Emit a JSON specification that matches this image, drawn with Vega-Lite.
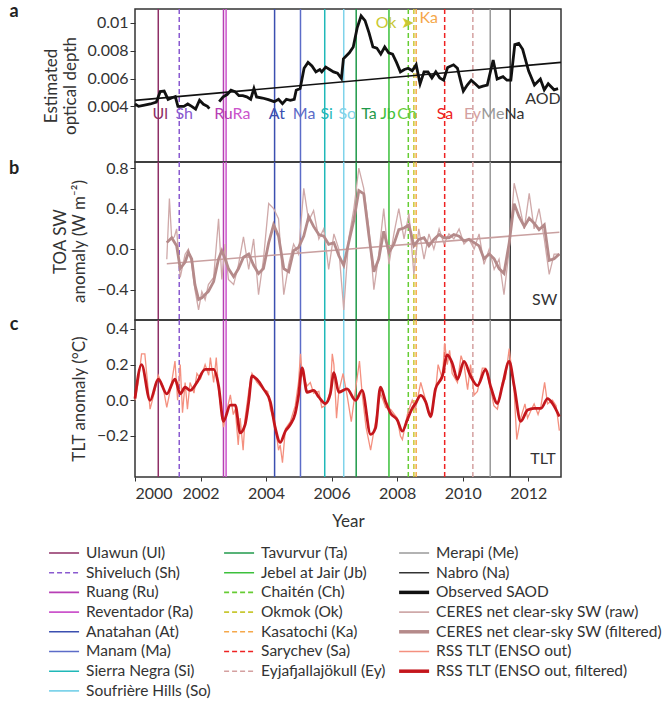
{
  "$schema": "https://vega.github.io/schema/vega-lite/v6.json",
  "background": "white",
  "padding": {"left": 8, "top": 2, "right": 5, "bottom": 5},
  "config": {
    "font": "Lato",
    "view": {"stroke": "#333", "strokeWidth": 1.5},
    "axis": {"grid": false, "domain": false, "labelFont": "Lato", "titleFont": "Lato", "labelFontSize": 16, "titleFontSize": 17, "titleFontWeight": "normal", "labelColor": "#333", "titleColor": "#333", "tickColor": "#333", "tickSize": 5},
    "text": {"font": "Lato"}
  },
  "datasets": {
    "volcanoes": [
      {"name": "Ulawun (Ul)", "ab": "Ul", "t": 2000.71, "lx": 2000.77},
      {"name": "Shiveluch (Sh)", "ab": "Sh", "t": 2001.35, "lx": 2001.5},
      {"name": "Ruang (Ru)", "ab": "Ru", "t": 2002.7, "lx": 2002.7},
      {"name": "Reventador (Ra)", "ab": "Ra", "t": 2002.78, "lx": 2003.25},
      {"name": "Anatahan (At)", "ab": "At", "t": 2004.26, "lx": 2004.33},
      {"name": "Manam (Ma)", "ab": "Ma", "t": 2005.05, "lx": 2005.16},
      {"name": "Sierra Negra (Si)", "ab": "Si", "t": 2005.79, "lx": 2005.85},
      {"name": "Soufrière Hills (So)", "ab": "So", "t": 2006.37, "lx": 2006.48},
      {"name": "Tavurvur (Ta)", "ab": "Ta", "t": 2006.75, "lx": 2007.14},
      {"name": "Jebel at Jair (Jb)", "ab": "Jb", "t": 2007.75, "lx": 2007.72},
      {"name": "Chaitén (Ch)", "ab": "Ch", "t": 2008.34, "lx": 2008.3},
      {"name": "Okmok (Ok)", "ab": "Ok", "t": 2008.51, "lx": 2008.5},
      {"name": "Kasatochi (Ka)", "ab": "Ka", "t": 2008.58, "lx": 2008.68},
      {"name": "Sarychev (Sa)", "ab": "Sa", "t": 2009.45, "lx": 2009.46},
      {"name": "Eyjafjallajökull (Ey)", "ab": "Ey", "t": 2010.31, "lx": 2010.3},
      {"name": "Merapi (Me)", "ab": "Me", "t": 2010.84, "lx": 2010.92},
      {"name": "Nabro (Na)", "ab": "Na", "t": 2011.45, "lx": 2011.58}
    ]
  },
  "spacing": 0,
  "bounds": "flush",
  "vconcat": [
    {
      "width": 426, "height": 153,
      "layer": [
        {
          "data": {"name": "volcanoes"},
          "mark": {"type": "rule", "strokeWidth": 1.5},
          "encoding": {
            "x": {"field": "t", "type": "quantitative", "scale": {"domain": [2000, 2013], "nice": false}, "axis": null},
            "color": {"field": "name", "type": "nominal", "legend": null},
            "strokeDash": {"field": "name", "type": "nominal", "legend": null}
          }
        },
        {
          "data": {"name": "volcanoes"},
          "transform": [{"filter": "datum.ab != 'Ok' && datum.ab != 'Ka'"}],
          "mark": {"type": "text", "fontSize": 16, "baseline": "middle"},
          "encoding": {
            "x": {"field": "lx", "type": "quantitative"},
            "y": {"datum": 0.00345},
            "text": {"field": "ab"},
            "color": {"field": "name", "type": "nominal", "legend": null}
          }
        },
        {
          "data": {"name": "volcanoes"},
          "transform": [{"filter": "datum.ab == 'Ok'"}],
          "mark": {"type": "text", "fontSize": 16, "align": "right", "baseline": "middle"},
          "encoding": {
            "x": {"field": "lx", "type": "quantitative"},
            "y": {"datum": 0.00998},
            "text": {"value": "Ok ➤"},
            "color": {"field": "name", "type": "nominal", "legend": null}
          }
        },
        {
          "data": {"name": "volcanoes"},
          "transform": [{"filter": "datum.ab == 'Ka'"}],
          "mark": {"type": "text", "fontSize": 16, "align": "left", "baseline": "middle"},
          "encoding": {
            "x": {"field": "lx", "type": "quantitative"},
            "y": {"datum": 0.01036},
            "text": {"field": "ab"},
            "color": {"field": "name", "type": "nominal", "legend": null}
          }
        },
        {
          "data": {"values": [{"t": 2000, "v": 0.00443}, {"t": 2013, "v": 0.00716}]},
          "mark": {"type": "line", "color": "#111", "strokeWidth": 1.6},
          "encoding": {"x": {"field": "t", "type": "quantitative"}, "y": {"field": "v", "type": "quantitative"}}
        },
        {
          "data": {"values": [
            {"t": 2000.0, "v": 0.00417, "s": 1}, {"t": 2000.11, "v": 0.0040, "s": 1}, {"t": 2000.29, "v": 0.00409, "s": 1}, {"t": 2000.47, "v": 0.00417, "s": 1}, {"t": 2000.65, "v": 0.0043, "s": 1}, {"t": 2000.77, "v": 0.00506, "s": 1}, {"t": 2000.89, "v": 0.0051, "s": 1}, {"t": 2001.01, "v": 0.0045, "s": 1}, {"t": 2001.13, "v": 0.00462, "s": 1}, {"t": 2001.23, "v": 0.0047, "s": 1}, {"t": 2001.31, "v": 0.0040, "s": 1}, {"t": 2001.49, "v": 0.0040, "s": 1}, {"t": 2001.61, "v": 0.00417, "s": 1}, {"t": 2001.73, "v": 0.0040, "s": 1}, {"t": 2001.85, "v": 0.0038, "s": 1}, {"t": 2001.97, "v": 0.00444, "s": 1}, {"t": 2002.09, "v": 0.00415, "s": 1}, {"t": 2002.21, "v": 0.0040, "s": 1}, {"t": 2002.27, "v": 0.00383, "s": 1},
            {"t": 2002.57, "v": 0.00434, "s": 2}, {"t": 2002.69, "v": 0.00468, "s": 2}, {"t": 2002.81, "v": 0.00485, "s": 2}, {"t": 2002.93, "v": 0.00516, "s": 2}, {"t": 2003.05, "v": 0.00506, "s": 2}, {"t": 2003.17, "v": 0.00477, "s": 2}, {"t": 2003.29, "v": 0.00477, "s": 2}, {"t": 2003.41, "v": 0.00468, "s": 2}, {"t": 2003.53, "v": 0.00451, "s": 2}, {"t": 2003.63, "v": 0.00528, "s": 2}, {"t": 2003.71, "v": 0.00468, "s": 2}, {"t": 2003.89, "v": 0.0046, "s": 2}, {"t": 2004.07, "v": 0.00448, "s": 2}, {"t": 2004.25, "v": 0.00434, "s": 2}, {"t": 2004.38, "v": 0.00451, "s": 2}, {"t": 2004.5, "v": 0.0042, "s": 2}, {"t": 2004.62, "v": 0.00451, "s": 2}, {"t": 2004.74, "v": 0.00443, "s": 2}, {"t": 2004.86, "v": 0.00451, "s": 2}, {"t": 2004.92, "v": 0.00516, "s": 2}, {"t": 2005.04, "v": 0.00528, "s": 2}, {"t": 2005.16, "v": 0.00674, "s": 2}, {"t": 2005.28, "v": 0.00716, "s": 2}, {"t": 2005.4, "v": 0.0069, "s": 2}, {"t": 2005.52, "v": 0.00648, "s": 2}, {"t": 2005.64, "v": 0.00665, "s": 2}, {"t": 2005.7, "v": 0.00648, "s": 2}, {"t": 2005.82, "v": 0.00682, "s": 2}, {"t": 2005.94, "v": 0.00665, "s": 2}, {"t": 2006.06, "v": 0.00648, "s": 2}, {"t": 2006.18, "v": 0.00639, "s": 2}, {"t": 2006.3, "v": 0.006, "s": 2}, {"t": 2006.36, "v": 0.00742, "s": 2}, {"t": 2006.54, "v": 0.00785, "s": 2}, {"t": 2006.66, "v": 0.00827, "s": 2}, {"t": 2006.78, "v": 0.00964, "s": 2}, {"t": 2006.9, "v": 0.0105, "s": 2}, {"t": 2007.02, "v": 0.01016, "s": 2}, {"t": 2007.14, "v": 0.0093, "s": 2}, {"t": 2007.26, "v": 0.00827, "s": 2}, {"t": 2007.38, "v": 0.00819, "s": 2}, {"t": 2007.5, "v": 0.00776, "s": 2}, {"t": 2007.62, "v": 0.00827, "s": 2}, {"t": 2007.74, "v": 0.00785, "s": 2}, {"t": 2007.86, "v": 0.00776, "s": 2}, {"t": 2007.98, "v": 0.00716, "s": 2}, {"t": 2008.1, "v": 0.00648, "s": 2}, {"t": 2008.22, "v": 0.00665, "s": 2}, {"t": 2008.34, "v": 0.00674, "s": 2}, {"t": 2008.46, "v": 0.00656, "s": 2}, {"t": 2008.58, "v": 0.007, "s": 2}, {"t": 2008.7, "v": 0.00562, "s": 2}, {"t": 2008.82, "v": 0.00648, "s": 2}, {"t": 2008.94, "v": 0.00648, "s": 2}, {"t": 2009.06, "v": 0.00605, "s": 2}, {"t": 2009.18, "v": 0.00648, "s": 2}, {"t": 2009.3, "v": 0.00605, "s": 2}, {"t": 2009.42, "v": 0.00588, "s": 2}, {"t": 2009.54, "v": 0.0068, "s": 2}, {"t": 2009.72, "v": 0.00699, "s": 2}, {"t": 2009.84, "v": 0.00674, "s": 2}, {"t": 2009.96, "v": 0.00562, "s": 2}, {"t": 2010.02, "v": 0.0051, "s": 2}, {"t": 2010.14, "v": 0.00553, "s": 2}, {"t": 2010.26, "v": 0.00588, "s": 2}, {"t": 2010.38, "v": 0.00562, "s": 2}, {"t": 2010.5, "v": 0.00536, "s": 2}, {"t": 2010.62, "v": 0.00545, "s": 2}, {"t": 2010.75, "v": 0.00553, "s": 2}, {"t": 2010.93, "v": 0.00733, "s": 2}, {"t": 2011.05, "v": 0.00596, "s": 2}, {"t": 2011.23, "v": 0.00613, "s": 2}, {"t": 2011.35, "v": 0.00588, "s": 2}, {"t": 2011.47, "v": 0.00588, "s": 2}, {"t": 2011.59, "v": 0.00844, "s": 2}, {"t": 2011.71, "v": 0.00853, "s": 2}, {"t": 2011.83, "v": 0.0081, "s": 2}, {"t": 2012.01, "v": 0.00656, "s": 2}, {"t": 2012.19, "v": 0.00553, "s": 2}, {"t": 2012.37, "v": 0.00596, "s": 2}, {"t": 2012.49, "v": 0.00519, "s": 2}, {"t": 2012.61, "v": 0.00562, "s": 2}, {"t": 2012.79, "v": 0.00519, "s": 2}, {"t": 2012.91, "v": 0.00528, "s": 2}
          ]},
          "mark": {"type": "line", "color": "#111", "strokeWidth": 2.8},
          "encoding": {
            "x": {"field": "t", "type": "quantitative"},
            "y": {"field": "v", "type": "quantitative", "scale": {"domain": [0.003, 0.011], "nice": false}, "axis": {"values": [0.004, 0.006, 0.008, 0.01], "format": ".3~f", "title": ["Estimated", "optical depth"], "titlePadding": 8}},
            "detail": {"field": "s"}
          }
        },
        {
          "data": {"values": [{"lbl": "AOD", "t": 2012.45, "v": 0.0045}]},
          "mark": {"type": "text", "fontSize": 16, "color": "#333"},
          "encoding": {"x": {"field": "t", "type": "quantitative"}, "y": {"field": "v", "type": "quantitative"}, "text": {"field": "lbl"}}
        },
        {
          "data": {"values": [{"lbl": "a", "t": 1996.31, "v": 0.0108}]},
          "mark": {"type": "text", "fontSize": 18, "fontWeight": "bold", "color": "#222"},
          "encoding": {"x": {"field": "t", "type": "quantitative"}, "y": {"field": "v", "type": "quantitative"}, "text": {"field": "lbl"}}
        }
      ]
    },
    {
      "width": 426, "height": 158,
      "layer": [
        {
          "data": {"name": "volcanoes"},
          "mark": {"type": "rule", "strokeWidth": 1.5},
          "encoding": {
            "x": {"field": "t", "type": "quantitative", "scale": {"domain": [2000, 2013], "nice": false}, "axis": null},
            "color": {"field": "name", "type": "nominal", "legend": null},
            "strokeDash": {"field": "name", "type": "nominal", "legend": null}
          }
        },
        {
          "mark": {"type": "rule", "strokeDash": [1, 2.5], "color": "#222", "strokeWidth": 1.2},
          "encoding": {"y": {"datum": 0}}
        },
        {
          "data": {"values": [
            {"t": 2000.97, "v": -0.1}, {"t": 2001.05, "v": 0.5}, {"t": 2001.12, "v": 0.1}, {"t": 2001.2, "v": 0.12}, {"t": 2001.27, "v": 0.2}, {"t": 2001.38, "v": -0.28}, {"t": 2001.53, "v": -0.05}, {"t": 2001.63, "v": 0.0}, {"t": 2001.73, "v": -0.15}, {"t": 2001.83, "v": -0.4}, {"t": 2001.94, "v": -0.6}, {"t": 2002.04, "v": -0.42}, {"t": 2002.14, "v": -0.5}, {"t": 2002.24, "v": -0.35}, {"t": 2002.4, "v": -0.28}, {"t": 2002.55, "v": 0.3}, {"t": 2002.65, "v": -0.3}, {"t": 2002.75, "v": 0.05}, {"t": 2002.85, "v": -0.3}, {"t": 2003.01, "v": -0.35}, {"t": 2003.16, "v": -0.15}, {"t": 2003.31, "v": 0.12}, {"t": 2003.47, "v": -0.2}, {"t": 2003.62, "v": 0.1}, {"t": 2003.77, "v": -0.45}, {"t": 2003.92, "v": -0.1}, {"t": 2004.08, "v": 0.45}, {"t": 2004.23, "v": 0.4}, {"t": 2004.38, "v": 0.3}, {"t": 2004.54, "v": -0.45}, {"t": 2004.69, "v": -0.15}, {"t": 2004.84, "v": 0.05}, {"t": 2004.99, "v": -0.05}, {"t": 2005.15, "v": 0.6}, {"t": 2005.3, "v": 0.28}, {"t": 2005.45, "v": 0.38}, {"t": 2005.61, "v": 0.1}, {"t": 2005.76, "v": 0.2}, {"t": 2005.91, "v": -0.2}, {"t": 2006.07, "v": 0.15}, {"t": 2006.22, "v": 0.0}, {"t": 2006.37, "v": -0.6}, {"t": 2006.52, "v": 0.1}, {"t": 2006.68, "v": 0.4}, {"t": 2006.83, "v": 0.8}, {"t": 2006.98, "v": 0.6}, {"t": 2007.14, "v": 0.2}, {"t": 2007.29, "v": -0.4}, {"t": 2007.44, "v": -0.05}, {"t": 2007.59, "v": 0.4}, {"t": 2007.75, "v": -0.15}, {"t": 2007.9, "v": 0.15}, {"t": 2008.05, "v": 0.4}, {"t": 2008.21, "v": 0.1}, {"t": 2008.36, "v": 0.35}, {"t": 2008.51, "v": -0.25}, {"t": 2008.66, "v": 0.2}, {"t": 2008.82, "v": -0.1}, {"t": 2008.97, "v": 0.15}, {"t": 2009.12, "v": 0.0}, {"t": 2009.28, "v": 0.2}, {"t": 2009.43, "v": 0.05}, {"t": 2009.58, "v": 0.15}, {"t": 2009.73, "v": 0.1}, {"t": 2009.89, "v": 0.2}, {"t": 2010.04, "v": 0.05}, {"t": 2010.19, "v": 0.1}, {"t": 2010.35, "v": 0.0}, {"t": 2010.5, "v": 0.15}, {"t": 2010.65, "v": -0.15}, {"t": 2010.81, "v": 0.0}, {"t": 2010.96, "v": -0.2}, {"t": 2011.11, "v": -0.1}, {"t": 2011.26, "v": -0.45}, {"t": 2011.42, "v": 0.0}, {"t": 2011.57, "v": 0.65}, {"t": 2011.72, "v": 0.45}, {"t": 2011.88, "v": 0.2}, {"t": 2012.03, "v": 0.55}, {"t": 2012.18, "v": 0.2}, {"t": 2012.33, "v": 0.4}, {"t": 2012.49, "v": 0.1}, {"t": 2012.64, "v": -0.25}, {"t": 2012.79, "v": -0.05}, {"t": 2012.95, "v": -0.05}
          ]},
          "mark": {"type": "line", "color": "#cfa9a9", "strokeWidth": 1.3},
          "encoding": {
            "x": {"field": "t", "type": "quantitative"},
            "y": {"field": "v", "type": "quantitative", "scale": {"domain": [-0.7, 0.86], "nice": false}, "axis": {"values": [-0.4, 0, 0.4, 0.8], "format": ".1f", "title": ["TOA SW", "anomaly (W m⁻²)"], "titlePadding": 8}}
          }
        },
        {
          "data": {"values": [{"t": 2000.97, "v": -0.144}, {"t": 2012.95, "v": 0.167}]},
          "mark": {"type": "line", "color": "#c9a0a0", "strokeWidth": 1.6},
          "encoding": {"x": {"field": "t", "type": "quantitative"}, "y": {"field": "v", "type": "quantitative"}}
        },
        {
          "data": {"values": [
            {"t": 2000.97, "v": 0.064}, {"t": 2001.12, "v": 0.112}, {"t": 2001.27, "v": 0.032}, {"t": 2001.38, "v": -0.192}, {"t": 2001.53, "v": -0.128}, {"t": 2001.63, "v": -0.032}, {"t": 2001.73, "v": -0.096}, {"t": 2001.83, "v": -0.353}, {"t": 2001.94, "v": -0.497}, {"t": 2002.04, "v": -0.481}, {"t": 2002.14, "v": -0.449}, {"t": 2002.24, "v": -0.417}, {"t": 2002.4, "v": -0.321}, {"t": 2002.55, "v": -0.096}, {"t": 2002.65, "v": -0.016}, {"t": 2002.75, "v": -0.096}, {"t": 2002.85, "v": -0.192}, {"t": 2003.01, "v": -0.272}, {"t": 2003.16, "v": -0.192}, {"t": 2003.31, "v": -0.08}, {"t": 2003.47, "v": -0.048}, {"t": 2003.62, "v": -0.16}, {"t": 2003.77, "v": -0.24}, {"t": 2003.92, "v": -0.192}, {"t": 2004.08, "v": 0.064}, {"t": 2004.23, "v": 0.24}, {"t": 2004.38, "v": 0.128}, {"t": 2004.54, "v": -0.192}, {"t": 2004.69, "v": -0.224}, {"t": 2004.84, "v": -0.016}, {"t": 2004.99, "v": 0.016}, {"t": 2005.15, "v": 0.128}, {"t": 2005.3, "v": 0.32}, {"t": 2005.45, "v": 0.224}, {"t": 2005.61, "v": 0.144}, {"t": 2005.76, "v": 0.128}, {"t": 2005.91, "v": 0.048}, {"t": 2006.07, "v": 0.064}, {"t": 2006.22, "v": -0.064}, {"t": 2006.37, "v": -0.16}, {"t": 2006.52, "v": 0.064}, {"t": 2006.68, "v": 0.288}, {"t": 2006.83, "v": 0.577}, {"t": 2006.98, "v": 0.545}, {"t": 2007.14, "v": 0.128}, {"t": 2007.29, "v": -0.224}, {"t": 2007.44, "v": -0.096}, {"t": 2007.59, "v": 0.176}, {"t": 2007.75, "v": -0.032}, {"t": 2007.9, "v": 0.048}, {"t": 2008.05, "v": 0.192}, {"t": 2008.21, "v": 0.208}, {"t": 2008.36, "v": 0.24}, {"t": 2008.51, "v": 0.032}, {"t": 2008.66, "v": 0.096}, {"t": 2008.82, "v": 0.112}, {"t": 2008.97, "v": 0.032}, {"t": 2009.12, "v": 0.096}, {"t": 2009.28, "v": 0.144}, {"t": 2009.43, "v": 0.112}, {"t": 2009.58, "v": 0.112}, {"t": 2009.73, "v": 0.144}, {"t": 2009.89, "v": 0.128}, {"t": 2010.04, "v": 0.08}, {"t": 2010.19, "v": 0.096}, {"t": 2010.35, "v": 0.064}, {"t": 2010.5, "v": 0.032}, {"t": 2010.65, "v": -0.096}, {"t": 2010.81, "v": -0.048}, {"t": 2010.96, "v": -0.096}, {"t": 2011.11, "v": -0.192}, {"t": 2011.26, "v": -0.24}, {"t": 2011.42, "v": 0.064}, {"t": 2011.57, "v": 0.449}, {"t": 2011.72, "v": 0.32}, {"t": 2011.88, "v": 0.224}, {"t": 2012.03, "v": 0.304}, {"t": 2012.18, "v": 0.256}, {"t": 2012.33, "v": 0.192}, {"t": 2012.49, "v": 0.24}, {"t": 2012.64, "v": -0.112}, {"t": 2012.79, "v": -0.096}, {"t": 2012.95, "v": -0.048}
          ]},
          "mark": {"type": "line", "color": "#b58a8a", "strokeWidth": 2.8},
          "encoding": {"x": {"field": "t", "type": "quantitative"}, "y": {"field": "v", "type": "quantitative"}}
        },
        {
          "data": {"values": [{"lbl": "SW", "t": 2012.5, "v": -0.5}]},
          "mark": {"type": "text", "fontSize": 16, "color": "#333"},
          "encoding": {"x": {"field": "t", "type": "quantitative"}, "y": {"field": "v", "type": "quantitative"}, "text": {"field": "lbl"}}
        },
        {
          "data": {"values": [{"lbl": "b", "t": 1996.31, "v": 0.79}]},
          "mark": {"type": "text", "fontSize": 18, "fontWeight": "bold", "color": "#222"},
          "encoding": {"x": {"field": "t", "type": "quantitative"}, "y": {"field": "v", "type": "quantitative"}, "text": {"field": "lbl"}}
        }
      ]
    },
    {
      "width": 426, "height": 157,
      "layer": [
        {
          "data": {"name": "volcanoes"},
          "mark": {"type": "rule", "strokeWidth": 1.5},
          "encoding": {
            "x": {"field": "t", "type": "quantitative", "scale": {"domain": [2000, 2013], "nice": false}, "axis": {"values": [2000, 2002, 2004, 2006, 2008, 2010, 2012], "format": "d", "title": "Year", "titlePadding": 12, "tickSize": 4, "labelPadding": 4}},
            "color": {"field": "name", "type": "nominal", "legend": null},
            "strokeDash": {"field": "name", "type": "nominal", "legend": null}
          }
        },
        {
          "mark": {"type": "rule", "strokeDash": [1, 2.5], "color": "#222", "strokeWidth": 1.2},
          "encoding": {"y": {"datum": 0}}
        },
        {
          "data": {"values": [
            {"t": 2000.0, "v": 0.0}, {"t": 2000.1, "v": 0.1}, {"t": 2000.2, "v": 0.26}, {"t": 2000.3, "v": 0.26}, {"t": 2000.46, "v": -0.05}, {"t": 2000.6, "v": 0.05}, {"t": 2000.71, "v": 0.14}, {"t": 2000.85, "v": 0.08}, {"t": 2000.97, "v": -0.04}, {"t": 2001.1, "v": 0.08}, {"t": 2001.22, "v": 0.22}, {"t": 2001.3, "v": 0.0}, {"t": 2001.38, "v": 0.2}, {"t": 2001.45, "v": -0.07}, {"t": 2001.53, "v": 0.1}, {"t": 2001.6, "v": -0.05}, {"t": 2001.68, "v": 0.1}, {"t": 2001.8, "v": 0.04}, {"t": 2001.89, "v": 0.15}, {"t": 2002.0, "v": 0.12}, {"t": 2002.14, "v": 0.2}, {"t": 2002.25, "v": 0.14}, {"t": 2002.3, "v": 0.24}, {"t": 2002.4, "v": 0.1}, {"t": 2002.48, "v": 0.24}, {"t": 2002.55, "v": 0.06}, {"t": 2002.7, "v": -0.15}, {"t": 2002.8, "v": -0.06}, {"t": 2002.91, "v": 0.03}, {"t": 2003.0, "v": -0.08}, {"t": 2003.06, "v": -0.05}, {"t": 2003.15, "v": -0.25}, {"t": 2003.21, "v": -0.1}, {"t": 2003.3, "v": -0.28}, {"t": 2003.36, "v": -0.1}, {"t": 2003.47, "v": 0.05}, {"t": 2003.57, "v": 0.15}, {"t": 2003.72, "v": 0.1}, {"t": 2003.92, "v": 0.06}, {"t": 2004.05, "v": 0.05}, {"t": 2004.13, "v": -0.05}, {"t": 2004.28, "v": -0.14}, {"t": 2004.38, "v": -0.28}, {"t": 2004.43, "v": -0.25}, {"t": 2004.5, "v": -0.35}, {"t": 2004.59, "v": -0.16}, {"t": 2004.74, "v": -0.12}, {"t": 2004.89, "v": -0.03}, {"t": 2004.99, "v": 0.1}, {"t": 2005.05, "v": 0.26}, {"t": 2005.1, "v": 0.15}, {"t": 2005.25, "v": 0.08}, {"t": 2005.35, "v": 0.1}, {"t": 2005.45, "v": 0.04}, {"t": 2005.61, "v": 0.05}, {"t": 2005.7, "v": -0.04}, {"t": 2005.81, "v": -0.03}, {"t": 2005.96, "v": 0.05}, {"t": 2006.02, "v": 0.26}, {"t": 2006.07, "v": 0.2}, {"t": 2006.15, "v": -0.1}, {"t": 2006.22, "v": 0.05}, {"t": 2006.35, "v": 0.15}, {"t": 2006.47, "v": 0.03}, {"t": 2006.6, "v": -0.12}, {"t": 2006.73, "v": 0.06}, {"t": 2006.85, "v": 0.22}, {"t": 2006.93, "v": 0.04}, {"t": 2007.05, "v": -0.15}, {"t": 2007.19, "v": -0.28}, {"t": 2007.34, "v": -0.12}, {"t": 2007.49, "v": 0.04}, {"t": 2007.65, "v": -0.04}, {"t": 2007.8, "v": -0.05}, {"t": 2008.0, "v": -0.1}, {"t": 2008.1, "v": -0.2}, {"t": 2008.16, "v": -0.22}, {"t": 2008.31, "v": -0.08}, {"t": 2008.46, "v": 0.0}, {"t": 2008.56, "v": -0.05}, {"t": 2008.72, "v": 0.1}, {"t": 2008.87, "v": 0.0}, {"t": 2009.02, "v": -0.1}, {"t": 2009.17, "v": 0.05}, {"t": 2009.25, "v": 0.2}, {"t": 2009.38, "v": 0.12}, {"t": 2009.45, "v": 0.32}, {"t": 2009.53, "v": 0.2}, {"t": 2009.6, "v": 0.28}, {"t": 2009.68, "v": 0.15}, {"t": 2009.84, "v": 0.1}, {"t": 2009.95, "v": 0.25}, {"t": 2010.04, "v": 0.2}, {"t": 2010.15, "v": 0.06}, {"t": 2010.24, "v": 0.2}, {"t": 2010.35, "v": 0.03}, {"t": 2010.45, "v": 0.05}, {"t": 2010.6, "v": 0.18}, {"t": 2010.7, "v": 0.18}, {"t": 2010.86, "v": 0.06}, {"t": 2010.95, "v": -0.03}, {"t": 2011.06, "v": -0.05}, {"t": 2011.21, "v": 0.1}, {"t": 2011.3, "v": 0.12}, {"t": 2011.42, "v": 0.29}, {"t": 2011.57, "v": 0.05}, {"t": 2011.65, "v": -0.22}, {"t": 2011.77, "v": -0.1}, {"t": 2011.9, "v": -0.02}, {"t": 2011.98, "v": -0.1}, {"t": 2012.1, "v": -0.05}, {"t": 2012.18, "v": -0.02}, {"t": 2012.3, "v": -0.08}, {"t": 2012.39, "v": -0.03}, {"t": 2012.5, "v": 0.1}, {"t": 2012.59, "v": -0.02}, {"t": 2012.74, "v": 0.0}, {"t": 2012.85, "v": -0.03}, {"t": 2012.95, "v": -0.17}
          ]},
          "mark": {"type": "line", "color": "#f4907f", "strokeWidth": 1.3},
          "encoding": {
            "x": {"field": "t", "type": "quantitative"},
            "y": {"field": "v", "type": "quantitative", "scale": {"domain": [-0.43, 0.45], "nice": false}, "axis": {"values": [-0.2, 0, 0.2, 0.4], "format": ".1f", "title": "TLT anomaly (°C)", "titlePadding": 8}}
          }
        },
        {
          "data": {"values": [
            {"t": 2000.0, "v": 0.009}, {"t": 2000.2, "v": 0.2}, {"t": 2000.46, "v": 0.0}, {"t": 2000.71, "v": 0.118}, {"t": 2000.97, "v": 0.036}, {"t": 2001.22, "v": 0.118}, {"t": 2001.38, "v": 0.036}, {"t": 2001.53, "v": 0.073}, {"t": 2001.68, "v": 0.055}, {"t": 2001.89, "v": 0.1}, {"t": 2002.14, "v": 0.173}, {"t": 2002.4, "v": 0.173}, {"t": 2002.55, "v": 0.082}, {"t": 2002.7, "v": -0.118}, {"t": 2002.91, "v": -0.027}, {"t": 2003.06, "v": -0.027}, {"t": 2003.21, "v": -0.182}, {"t": 2003.36, "v": -0.136}, {"t": 2003.47, "v": -0.009}, {"t": 2003.57, "v": 0.136}, {"t": 2003.72, "v": 0.118}, {"t": 2003.92, "v": 0.064}, {"t": 2004.13, "v": -0.009}, {"t": 2004.28, "v": -0.155}, {"t": 2004.43, "v": -0.236}, {"t": 2004.59, "v": -0.173}, {"t": 2004.74, "v": -0.136}, {"t": 2004.89, "v": -0.073}, {"t": 2004.99, "v": 0.027}, {"t": 2005.1, "v": 0.182}, {"t": 2005.25, "v": 0.045}, {"t": 2005.45, "v": 0.055}, {"t": 2005.61, "v": 0.018}, {"t": 2005.81, "v": -0.018}, {"t": 2005.96, "v": 0.036}, {"t": 2006.07, "v": 0.155}, {"t": 2006.22, "v": 0.045}, {"t": 2006.47, "v": 0.064}, {"t": 2006.73, "v": 0.0}, {"t": 2006.93, "v": 0.055}, {"t": 2007.19, "v": -0.191}, {"t": 2007.34, "v": -0.155}, {"t": 2007.49, "v": 0.073}, {"t": 2007.65, "v": -0.009}, {"t": 2007.8, "v": -0.073}, {"t": 2008.0, "v": -0.109}, {"t": 2008.16, "v": -0.173}, {"t": 2008.31, "v": -0.109}, {"t": 2008.46, "v": -0.045}, {"t": 2008.56, "v": -0.018}, {"t": 2008.72, "v": 0.027}, {"t": 2008.87, "v": -0.009}, {"t": 2009.02, "v": -0.091}, {"t": 2009.17, "v": 0.064}, {"t": 2009.38, "v": 0.136}, {"t": 2009.53, "v": 0.255}, {"t": 2009.68, "v": 0.209}, {"t": 2009.84, "v": 0.118}, {"t": 2010.04, "v": 0.218}, {"t": 2010.24, "v": 0.136}, {"t": 2010.45, "v": 0.082}, {"t": 2010.7, "v": 0.173}, {"t": 2010.86, "v": 0.073}, {"t": 2011.06, "v": -0.018}, {"t": 2011.21, "v": 0.082}, {"t": 2011.42, "v": 0.218}, {"t": 2011.57, "v": 0.082}, {"t": 2011.77, "v": -0.118}, {"t": 2011.98, "v": -0.055}, {"t": 2012.18, "v": -0.045}, {"t": 2012.39, "v": -0.045}, {"t": 2012.59, "v": 0.009}, {"t": 2012.74, "v": -0.018}, {"t": 2012.95, "v": -0.091}
          ]},
          "mark": {"type": "line", "color": "#c4161c", "strokeWidth": 2.8, "interpolate": "monotone"},
          "encoding": {"x": {"field": "t", "type": "quantitative"}, "y": {"field": "v", "type": "quantitative"}}
        },
        {
          "data": {"values": [{"lbl": "TLT", "t": 2012.45, "v": -0.33}]},
          "mark": {"type": "text", "fontSize": 16, "color": "#333"},
          "encoding": {"x": {"field": "t", "type": "quantitative"}, "y": {"field": "v", "type": "quantitative"}, "text": {"field": "lbl"}}
        },
        {
          "data": {"values": [{"lbl": "c", "t": 1996.31, "v": 0.42}]},
          "mark": {"type": "text", "fontSize": 18, "fontWeight": "bold", "color": "#222"},
          "encoding": {"x": {"field": "t", "type": "quantitative"}, "y": {"field": "v", "type": "quantitative"}, "text": {"field": "lbl"}}
        }
      ]
    },
    {
      "width": 426, "height": 220,
      "view": {"stroke": null},
      "data": {"values": [
        {"name": "Ulawun (Ul)", "col": 0, "row": 0}, {"name": "Shiveluch (Sh)", "col": 0, "row": 1}, {"name": "Ruang (Ru)", "col": 0, "row": 2}, {"name": "Reventador (Ra)", "col": 0, "row": 3}, {"name": "Anatahan (At)", "col": 0, "row": 4}, {"name": "Manam (Ma)", "col": 0, "row": 5}, {"name": "Sierra Negra (Si)", "col": 0, "row": 6}, {"name": "Soufrière Hills (So)", "col": 0, "row": 7},
        {"name": "Tavurvur (Ta)", "col": 1, "row": 0}, {"name": "Jebel at Jair (Jb)", "col": 1, "row": 1}, {"name": "Chaitén (Ch)", "col": 1, "row": 2}, {"name": "Okmok (Ok)", "col": 1, "row": 3}, {"name": "Kasatochi (Ka)", "col": 1, "row": 4}, {"name": "Sarychev (Sa)", "col": 1, "row": 5}, {"name": "Eyjafjallajökull (Ey)", "col": 1, "row": 6},
        {"name": "Merapi (Me)", "col": 2, "row": 0}, {"name": "Nabro (Na)", "col": 2, "row": 1}, {"name": "Observed SAOD", "col": 2, "row": 2}, {"name": "CERES net clear-sky SW (raw)", "col": 2, "row": 3}, {"name": "CERES net clear-sky SW (filtered)", "col": 2, "row": 4}, {"name": "RSS TLT (ENSO out)", "col": 2, "row": 5}, {"name": "RSS TLT (ENSO out, filtered)", "col": 2, "row": 6}
      ]},
      "encoding": {
        "x": {"field": "col", "type": "quantitative", "scale": {"domain": [0.491, 2.925], "nice": false, "zero": false}, "axis": null},
        "y": {"field": "row", "type": "quantitative", "scale": {"domain": [-3.858, 7.31], "nice": false, "zero": false, "reverse": true}, "axis": null}
      },
      "layer": [
        {
          "transform": [{"filter": {"not": {"field": "name", "oneOf": ["Observed SAOD", "CERES net clear-sky SW (filtered)", "RSS TLT (ENSO out, filtered)"]}}}],
          "mark": {"type": "rule", "x2Offset": 30, "strokeWidth": 1.6},
          "encoding": {
            "x2": {"field": "col"},
            "color": {"field": "name", "type": "nominal", "legend": null, "scale": {
              "domain": ["Ulawun (Ul)", "Shiveluch (Sh)", "Ruang (Ru)", "Reventador (Ra)", "Anatahan (At)", "Manam (Ma)", "Sierra Negra (Si)", "Soufrière Hills (So)", "Tavurvur (Ta)", "Jebel at Jair (Jb)", "Chaitén (Ch)", "Okmok (Ok)", "Kasatochi (Ka)", "Sarychev (Sa)", "Eyjafjallajökull (Ey)", "Merapi (Me)", "Nabro (Na)", "Observed SAOD", "CERES net clear-sky SW (raw)", "CERES net clear-sky SW (filtered)", "RSS TLT (ENSO out)", "RSS TLT (ENSO out, filtered)"],
              "range": ["#8e2f66", "#8a5ad0", "#b73fb5", "#cc55cc", "#3b4fb0", "#5c6cc8", "#1fb8b8", "#7fd3ea", "#1f9a4a", "#3cc03c", "#66cc33", "#c8c832", "#f5a84a", "#ee2222", "#d4a0a0", "#999999", "#333333", "#111111", "#cfa9a9", "#b58a8a", "#f4907f", "#c4161c"]}},
            "strokeDash": {"field": "name", "type": "nominal", "legend": null, "scale": {
              "domain": ["Ulawun (Ul)", "Shiveluch (Sh)", "Ruang (Ru)", "Reventador (Ra)", "Anatahan (At)", "Manam (Ma)", "Sierra Negra (Si)", "Soufrière Hills (So)", "Tavurvur (Ta)", "Jebel at Jair (Jb)", "Chaitén (Ch)", "Okmok (Ok)", "Kasatochi (Ka)", "Sarychev (Sa)", "Eyjafjallajökull (Ey)", "Merapi (Me)", "Nabro (Na)", "Observed SAOD", "CERES net clear-sky SW (raw)", "CERES net clear-sky SW (filtered)", "RSS TLT (ENSO out)", "RSS TLT (ENSO out, filtered)"],
              "range": [[1, 0], [5, 3], [1, 0], [1, 0], [1, 0], [1, 0], [1, 0], [1, 0], [1, 0], [1, 0], [5, 3], [5, 3], [5, 3], [5, 3], [5, 3], [1, 0], [1, 0], [1, 0], [1, 0], [1, 0], [1, 0], [1, 0]]}}
          }
        },
        {
          "transform": [{"filter": {"field": "name", "oneOf": ["Observed SAOD", "CERES net clear-sky SW (filtered)", "RSS TLT (ENSO out, filtered)"]}}],
          "mark": {"type": "rule", "x2Offset": 30, "strokeWidth": 3.5},
          "encoding": {
            "x2": {"field": "col"},
            "color": {"field": "name", "type": "nominal", "legend": null}
          }
        },
        {
          "mark": {"type": "text", "align": "left", "baseline": "middle", "dx": 37, "fontSize": 15.5, "color": "#333"},
          "encoding": {"text": {"field": "name"}}
        }
      ]
    }
  ]
}
